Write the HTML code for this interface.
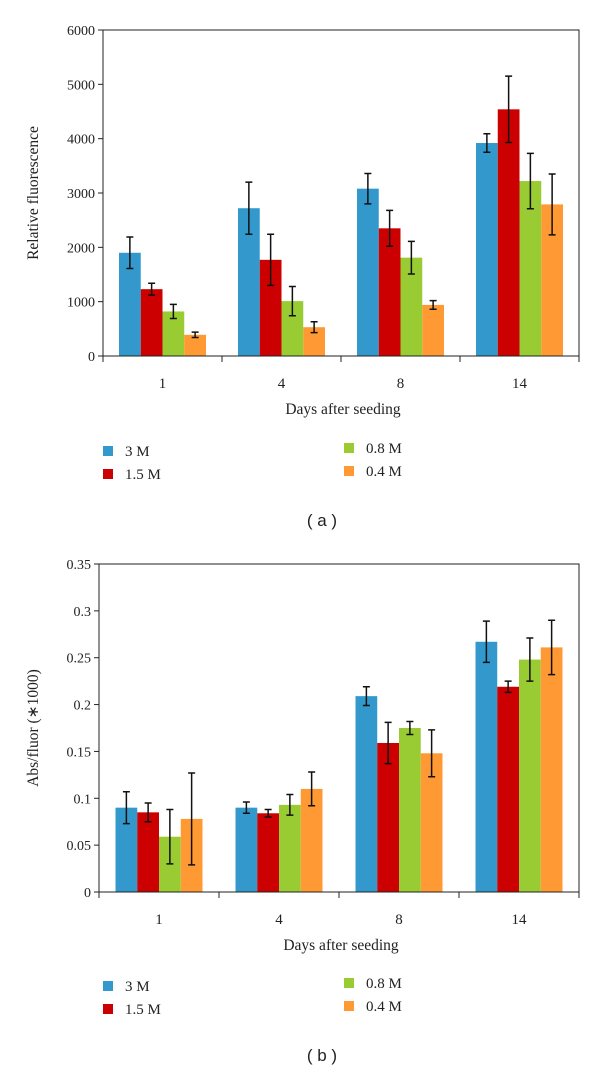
<!DOCTYPE html>
<html><head><meta charset="utf-8"><style>
body{margin:0;background:#fff;width:600px;height:1072px;overflow:hidden}
svg text{font-family:"Liberation Serif",serif;fill:#222}
</style></head><body>
<svg id="s" width="600" height="1072" xmlns="http://www.w3.org/2000/svg"></svg>
<script>
const categories=["1","4","8","14"];
const seriesNames=["3 M","1.5 M","0.8 M","0.4 M"];
const colors=["#3399cc","#cc0000","#99cc33","#ff9933"];
const aValues=[[1900,2720,3080,3920],[1230,1770,2350,4540],[820,1010,1810,3220],[390,530,940,2790]];
const aErrors=[[290,480,280,170],[110,470,330,610],[130,270,300,510],[50,100,80,560]];
const aTicks=[0,1000,2000,3000,4000,5000,6000];
const aTickLabels=["0","1000","2000","3000","4000","5000","6000"];
const bValues=[[0.09,0.09,0.209,0.267],[0.085,0.084,0.159,0.219],[0.059,0.093,0.175,0.248],[0.078,0.11,0.148,0.261]];
const bErrors=[[0.017,0.006,0.01,0.022],[0.01,0.004,0.022,0.006],[0.029,0.011,0.007,0.023],[0.049,0.018,0.025,0.029]];
const bTicks=[0,0.05,0.1,0.15,0.2,0.25,0.3,0.35];
const bTickLabels=["0","0.05","0.1","0.15","0.2","0.25","0.3","0.35"];

const svg=document.getElementById('s');
const NS="http://www.w3.org/2000/svg";
function el(tag,attrs,parent){const e=document.createElementNS(NS,tag);for(const k in attrs)e.setAttribute(k,attrs[k]);(parent||svg).appendChild(e);return e;}

function chart(o){
  const g=el('g',{});
  
  
  const y=v=>o.bottom-(v-o.min)/(o.max-o.min)*(o.bottom-o.top);
  const band=(o.right-o.left)/categories.length;
  const bw=21.75;
  // bars
  for(let s=0;s<seriesNames.length;s++){
    for(let c=0;c<categories.length;c++){
      const v=o.values[s][c],e=o.errors[s][c];
      const x=o.left+c*band+(band-bw*4)/2+s*bw;
      const r=el('rect',{x:x,y:y(v),width:bw,height:o.bottom-y(v),fill:colors[s]},g);
      
      
      const cx=x+bw/2;
      const eb=el('path',{d:`M${cx},${y(v+e)}V${y(v-e)}M${cx-3.5},${y(v+e)}H${cx+3.5}M${cx-3.5},${y(v-e)}H${cx+3.5}`,stroke:'#111','stroke-width':1.5,fill:'none'},g);
      
      
    }
  }
  // frame
  const fr=el('path',{d:`M${o.left},${o.top}H${o.right}V${o.bottom}H${o.left}Z`,stroke:'#222','stroke-width':1,fill:'none'},g);
  
  
  // y ticks
  o.ticks.forEach((t,i)=>{
    el('path',{d:`M${o.left-5},${y(t)}H${o.left}`,stroke:'#222','stroke-width':1},g);
    const tx=el('text',{x:o.left-8,y:y(t)+5,'text-anchor':'end','font-size':14},g);
    tx.textContent=o.tickLabels[i];
    
    
  });
  // x ticks
  for(let c=0;c<=categories.length;c++){
    el('path',{d:`M${o.left+c*band},${o.bottom}V${o.bottom+6}`,stroke:'#222','stroke-width':1},g);
  }
  categories.forEach((c,i)=>{
    const tx=el('text',{x:o.left+(i+0.5)*band,y:o.bottom+32,'text-anchor':'middle','font-size':15},g);
    tx.textContent=c;
    
    
  });
  const xt=el('text',{x:(o.left+o.right)/2+2,y:o.bottom+58,'text-anchor':'middle','font-size':15.5},g);
  xt.textContent='Days after seeding';
  
  
  const yt=el('text',{x:0,y:0,'text-anchor':'middle','font-size':15.5,transform:`translate(${o.ytx},${(o.top+o.bottom)/2}) rotate(-90)`},g);
  yt.textContent=o.ytitle;
  
  
  // legend
  const lp=[[103,o.leg],[103,o.leg+23],[344,o.leg-3],[344,o.leg+20]];
  seriesNames.forEach((n,i)=>{
    const lg=el('g',{},g);
    
    
    el('rect',{x:lp[i][0],y:lp[i][1],width:10,height:10,fill:colors[i]},lg);
    const t=el('text',{x:lp[i][0]+22,y:lp[i][1]+10,'font-size':15},lg);
    t.textContent=n;
  });
  const p=el('text',{x:322,y:o.plab,'text-anchor':'middle','font-size':17,style:'font-family:"Liberation Sans",sans-serif'},g);
  p.textContent=o.plabel;
  
  
}
chart({name:'chart-a',left:103,right:579,top:30,bottom:356,min:0,max:6000,values:aValues,errors:aErrors,ticks:aTicks,tickLabels:aTickLabels,ytitle:'Relative fluorescence',ytx:38,leg:446,plab:526,plabel:'( a )'});
chart({name:'chart-b',left:99,right:579,top:564,bottom:892,min:0,max:0.35,values:bValues,errors:bErrors,ticks:bTicks,tickLabels:bTickLabels,ytitle:'Abs/fluor (∗1000)',ytx:38,leg:981,plab:1061,plabel:'( b )'});
</script>
</body></html>
